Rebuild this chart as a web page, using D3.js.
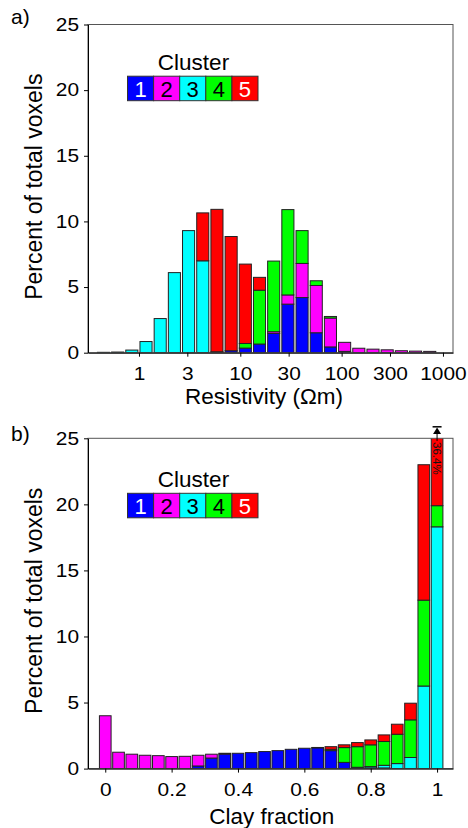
<!DOCTYPE html>
<html>
<head>
<meta charset="utf-8">
<script src="https://cdn.jsdelivr.net/npm/d3@7"></script>
<style>
  body { margin: 0; background: #fff; }
  svg text { font-family: "Liberation Sans", Arial, sans-serif; }
</style>
</head>
<body>
<svg id="chart"></svg>
<script>
// cluster names (stack order bottom -> top)
const clusterIds = ["1", "2", "3", "4", "5"];

// panel a: resistivity bins, left edge in log10(ohm m), each 0.14 wide
const resBinLog = [-0.42, -0.28, -0.14, 0.00, 0.14, 0.28, 0.42, 0.56, 0.70, 0.84, 0.98, 1.12,
                   1.26, 1.40, 1.54, 1.68, 1.82, 1.96, 2.10, 2.24, 2.38, 2.52, 2.66, 2.80];
const resBinWidth = 0.14;
const resC1 = [0, 0, 0, 0, 0, 0, 0, 0, 0.02, 0.15, 0.35, 0.66, 1.47, 3.7, 4.2, 1.52, 0.44, 0.1, 0, 0, 0, 0, 0, 0];
const resC2 = [0, 0, 0, 0, 0, 0, 0, 0, 0, 0, 0, 0, 0.13, 0.7, 2.6, 3.6, 2.2, 0.69, 0.34, 0.27, 0.22, 0.15, 0.12, 0.1];
const resC3 = [0.03, 0.05, 0.2, 0.85, 2.6, 6.1, 9.3, 7.0, 0.05, 0, 0, 0, 0, 0, 0, 0, 0, 0, 0, 0, 0, 0, 0, 0];
const resC4 = [0, 0, 0, 0, 0, 0, 0, 0, 0, 0, 0.35, 4.1, 5.38, 6.5, 2.5, 0.36, 0.12, 0, 0, 0, 0, 0, 0, 0];
const resC5 = [0, 0, 0, 0, 0, 0, 0, 3.65, 10.85, 8.7, 6.05, 0.98, 0, 0, 0, 0, 0, 0, 0, 0, 0, 0, 0, 0];
const resTicks = [1, 3, 10, 30, 100, 300, 1000];

// panel b: clay fraction bins (centres)
const clayBins = [0, 0.04, 0.08, 0.12, 0.16, 0.20, 0.24, 0.28, 0.32, 0.36, 0.40, 0.44, 0.48,
                  0.52, 0.56, 0.60, 0.64, 0.68, 0.72, 0.76, 0.80, 0.84, 0.88, 0.92, 0.96, 1.00];
const clayBinWidth = 0.04;
const clayC1 = [0, 0, 0, 0, 0, 0, 0, 0.2, 0.8, 1.1, 1.16, 1.21, 1.29, 1.36, 1.46, 1.54, 1.57, 1.36, 0.47, 0.1, 0.05, 0.05, 0, 0, 0, 0];
const clayC2 = [4.0, 1.24, 1.09, 1.01, 0.98, 0.91, 0.93, 0.81, 0.29, 0.06, 0, 0, 0, 0, 0, 0, 0, 0, 0, 0, 0, 0, 0, 0, 0, 0];
const clayC3 = [0, 0, 0, 0, 0, 0, 0, 0, 0, 0, 0, 0, 0, 0, 0, 0, 0, 0, 0, 0, 0.1, 0.2, 0.38, 0.84, 6.25, 18.3];
const clayC4 = [0, 0, 0, 0, 0, 0, 0, 0, 0, 0, 0, 0, 0, 0, 0, 0, 0.03, 0.1, 1.12, 1.56, 1.65, 1.8, 2.22, 2.85, 6.5, 1.6];
const clayC5 = [0, 0, 0, 0, 0, 0, 0, 0, 0, 0, 0, 0, 0, 0, 0, 0, 0, 0.2, 0.21, 0.31, 0.37, 0.5, 0.76, 1.26, 10.25, 16.5];
const clayTicks = [0, 0.2, 0.4, 0.6, 0.8, 1];
const clayMaxLabel = "36.4%";

const pctTicks = [0, 5, 10, 15, 20, 25];

const clusterColors = ["#0000ff", "#ff00ff", "#00ffff", "#00ff00", "#ff0000"];
const clusterTextColors = ["#fff", "#000", "#000", "#000", "#fff"];
const keys = ["c1", "c2", "c3", "c4", "c5"];

const svg = d3.select("#chart").attr("width", 468).attr("height", 828);
const plotLeft = 88, plotRight = 453;
const tickStretch = 1.16;

function makeRows(bins, cols) {
  return bins.map((b, i) => ({ bin: b, c1: cols[0][i], c2: cols[1][i], c3: cols[2][i], c4: cols[3][i], c5: cols[4][i] }));
}

function drawPanel(opt) {
  const g = svg.append("g");
  const top = opt.y.range()[1], bottom = opt.y.range()[0];

  g.append("clipPath").attr("id", opt.id + "-clip")
    .append("rect")
      .attr("x", plotLeft).attr("y", top)
      .attr("width", plotRight - plotLeft).attr("height", bottom - top);

  // stacked bars
  const layers = d3.stack().keys(keys)(opt.rows);
  g.append("g")
      .attr("clip-path", `url(#${opt.id}-clip)`)
    .selectAll("g")
    .data(layers)
    .join("g")
      .attr("fill", (d, i) => clusterColors[i])
    .selectAll("rect")
    .data(d => d.filter(s => s[1] - s[0] > 0))
    .join("rect")
      .attr("x", s => opt.barX0(s.data.bin))
      .attr("width", s => opt.barX1(s.data.bin) - opt.barX0(s.data.bin))
      .attr("y", s => opt.y(s[1]))
      .attr("height", s => opt.y(s[0]) - opt.y(s[1]))
      .attr("stroke", "#222")
      .attr("stroke-width", 1);

  // frame
  g.append("rect")
    .attr("x", plotLeft).attr("y", top)
    .attr("width", plotRight - plotLeft).attr("height", bottom - top)
    .attr("fill", "none").attr("stroke", "#555").attr("stroke-width", 1);

  // y axis
  const yAxis = g.append("g")
      .attr("transform", `translate(${plotLeft},0)`)
      .call(d3.axisLeft(opt.y).tickValues(pctTicks).tickSize(4).tickPadding(5).tickSizeOuter(0));
  yAxis.selectAll("text")
      .attr("x", -9 / tickStretch)
      .attr("transform", `scale(${tickStretch},1)`)
      .style("font-size", "18px").attr("fill", "#000");

  // x axis
  const xAxis = g.append("g")
      .attr("transform", `translate(0,${bottom})`)
      .call(d3.axisBottom(opt.x).tickValues(opt.ticks).tickFormat(opt.tickFormat)
        .tickSize(4).tickPadding(10.5).tickSizeOuter(0));
  xAxis.selectAll("text")
      .attr("transform", `scale(${tickStretch},1)`)
      .style("font-size", "18px").attr("fill", "#000");
  g.selectAll(".domain").attr("stroke", "#000");
  g.selectAll(".tick line").attr("stroke", "#000");

  // titles
  g.append("text")
    .attr("transform", `translate(42,${opt.yTitleY}) rotate(-90)`)
    .attr("text-anchor", "middle")
    .style("font-size", "23px")
    .text("Percent of total voxels");

  g.append("text")
    .attr("x", opt.xTitleX).attr("y", opt.xTitleY)
    .attr("text-anchor", "middle")
    .style("font-size", "22.5px")
    .text(opt.xTitle);

  g.append("text")
    .attr("x", 11).attr("y", opt.labelY)
    .style("font-size", "21px")
    .text(opt.label);

  // legend
  const lg = g.append("g").attr("transform", `translate(127.5,${opt.legendY})`);
  lg.append("text")
    .attr("x", 66).attr("y", -6)
    .attr("text-anchor", "middle")
    .style("font-size", "22.5px")
    .text("Cluster");
  const boxW = 26.1, boxH = 24.5;
  const items = lg.selectAll(".leg")
    .data(clusterIds)
    .join("g")
      .attr("class", "leg")
      .attr("transform", (d, i) => `translate(${i * boxW},0)`);
  items.append("rect")
    .attr("width", boxW).attr("height", boxH)
    .attr("fill", (d, i) => clusterColors[i])
    .attr("stroke", "#333").attr("stroke-width", 1);
  items.append("text")
    .attr("x", boxW / 2).attr("y", boxH - 4)
    .attr("text-anchor", "middle")
    .style("font-size", "22px")
    .attr("fill", (d, i) => clusterTextColors[i])
    .text(d => d);

  return g;
}

// panel a
const ya = d3.scaleLinear().domain([0, 25]).range([352.7, 24.5]);
const xa = d3.scaleLog().domain([Math.pow(10, -0.503), Math.pow(10, 3.099)]).range([plotLeft, plotRight]);
drawPanel({
  id: "pa",
  rows: makeRows(resBinLog, [resC1, resC2, resC3, resC4, resC5]),
  x: xa, y: ya,
  barX0: b => xa(Math.pow(10, b)) + 1,
  barX1: b => xa(Math.pow(10, b + resBinWidth)) - 1.1,
  ticks: resTicks,
  tickFormat: d3.format("d"),
  xTitle: "Resistivity (\u03A9m)", xTitleX: 264, xTitleY: 403.5,
  yTitleY: 186.7,
  label: "a)", labelY: 24,
  legendY: 76.2
});

// panel b
const yb = d3.scaleLinear().domain([0, 25]).range([768.6, 438.3]);
const xb = d3.scaleLinear().domain([-0.052, 1.048]).range([plotLeft, plotRight]);
const gb = drawPanel({
  id: "pb",
  rows: makeRows(clayBins, [clayC1, clayC2, clayC3, clayC4, clayC5]),
  x: xb, y: yb,
  barX0: b => xb(b - clayBinWidth / 2) + 0.8,
  barX1: b => xb(b + clayBinWidth / 2) - 0.8,
  ticks: clayTicks,
  tickFormat: d => (d === 0 || d === 1) ? d3.format("d")(d) : d3.format(".1f")(d),
  xTitle: "Clay fraction", xTitleX: 271.7, xTitleY: 823.5,
  yTitleY: 600.8,
  label: "b)", labelY: 440.5,
  legendY: 493.3
});

// off-scale marker for the last clay bin
const ax = xb(clayBins[clayBins.length - 1]);
const arrow = gb.append("g");
arrow.append("line")
  .attr("x1", ax - 4.5).attr("x2", ax + 4.5).attr("y1", 426.8).attr("y2", 426.8)
  .attr("stroke", "#000").attr("stroke-width", 1.5);
arrow.append("path")
  .attr("d", `M${ax},427.5 L${ax - 4},434 L${ax + 4},434 Z`)
  .attr("fill", "#000");
arrow.append("line")
  .attr("x1", ax).attr("x2", ax).attr("y1", 434).attr("y2", 441)
  .attr("stroke", "#000").attr("stroke-width", 1);
arrow.append("text")
  .attr("transform", `translate(${ax},442) rotate(90)`)
  .attr("dy", "0.35em")
  .style("font-size", "11.5px")
  .attr("fill", "#111")
  .text(clayMaxLabel);
</script>
</body>
</html>
